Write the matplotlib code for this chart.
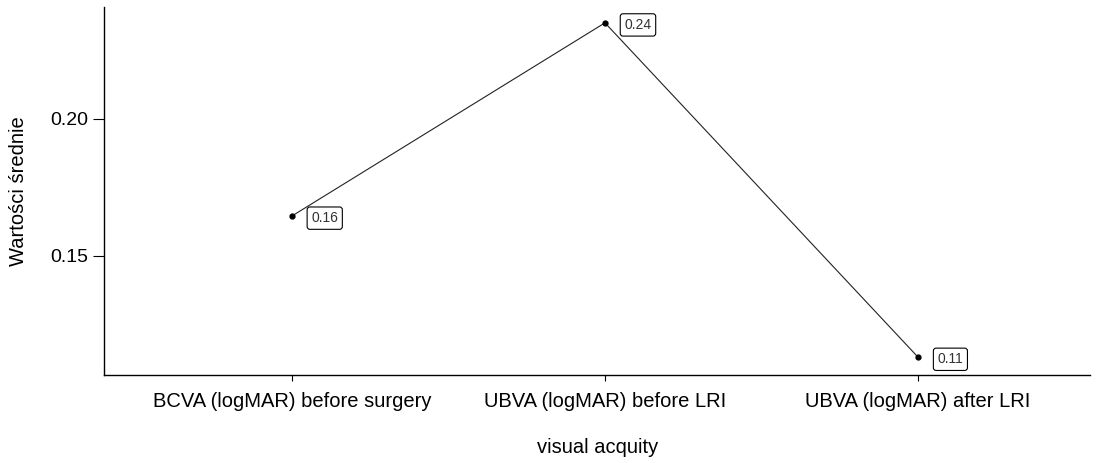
import matplotlib.pyplot as plt

categories = ["BCVA (logMAR) before surgery", "UBVA (logMAR) before LRI", "UBVA (logMAR) after LRI"]
means = [0.1645, 0.235, 0.113]
point_labels = ["0.16", "0.24", "0.11"]

plt.rcParams['font.family'] = ['Liberation Sans', 'DejaVu Sans']

fig = plt.figure(figsize=(11.12, 4.63), dpi=100)
ax = fig.add_axes([0.0935, 0.19, 0.887, 0.795])

x = list(range(len(categories)))
ax.plot(x, means, color="#222222", linewidth=0.8, marker="o", markersize=3.5,
        markerfacecolor="black", markeredgecolor="black")

for xi, yi, txt in zip(x, means, point_labels):
    ax.annotate(txt, (xi, yi), xytext=(14, -1.5), textcoords="offset points",
                fontsize=10, ha="left", va="center", color="#333333",
                bbox=dict(boxstyle="round,pad=0.3,rounding_size=0.2", fc="white", ec="black", lw=0.8))

ax.set_xlim(-0.6, 2.55)
ax.set_ylim(0.1065, 0.2408)
ax.set_yticks([0.15, 0.20])
ax.set_yticklabels(["0.15", "0.20"])
ax.set_xticks(x)
ax.set_xticklabels(categories)

for side in ["top", "right"]:
    ax.spines[side].set_visible(False)
ax.spines["left"].set_linewidth(1.0)
ax.spines["bottom"].set_linewidth(1.0)

ax.tick_params(axis="y", length=8, width=0.8, labelsize=14, pad=3)
ax.tick_params(axis="x", length=4, width=0.8, labelsize=14.5, pad=8)

ax.set_xlabel("visual acquity", fontsize=14.5, labelpad=20)
ax.set_ylabel("Wartości średnie", fontsize=14.5, labelpad=16)

fig.savefig("out.png", dpi=100)
